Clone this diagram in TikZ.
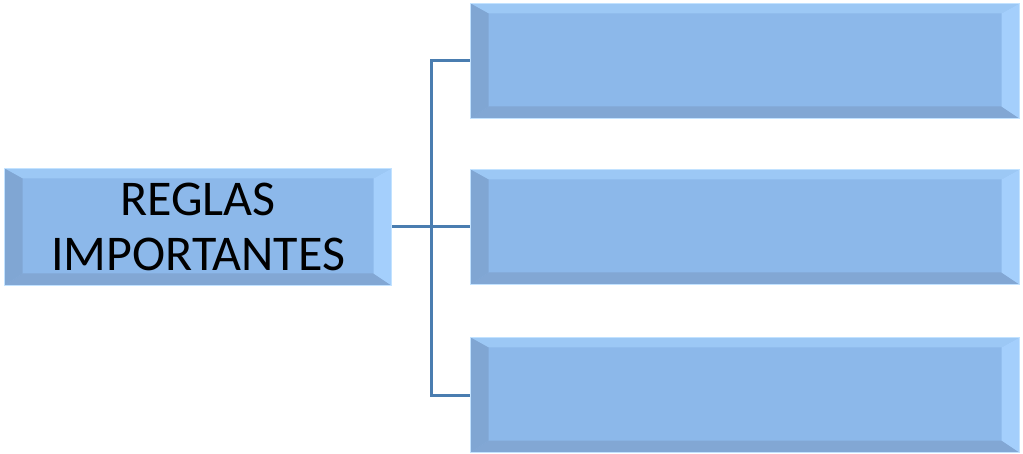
\documentclass[tikz,border=0pt]{standalone}
\usepackage{fontspec}
\setmainfont{Carlito}
\definecolor{boxfill}{HTML}{8CB8EA}
\definecolor{bevtop}{HTML}{9CC8F5}
\definecolor{bevleft}{HTML}{80A6D3}
\definecolor{bevright}{HTML}{A4CFFC}
\definecolor{bevbot}{HTML}{82A7D4}
\definecolor{boxedge}{HTML}{C2E2FF}
\definecolor{linkcol}{HTML}{4A7DB0}
\tikzset{
  bevelbox/.style={draw=boxedge, line width=1.5pt, fill=boxfill, inner sep=0pt,
    path picture={
      \coordinate (nw) at (path picture bounding box.north west);
      \coordinate (ne) at (path picture bounding box.north east);
      \coordinate (sw) at (path picture bounding box.south west);
      \coordinate (se) at (path picture bounding box.south east);
      \fill[bevtop] (nw) -- (ne) -- ([xshift=-18pt,yshift=-10pt]ne) -- ([xshift=18pt,yshift=-10pt]nw) -- cycle;
      \fill[bevbot] (sw) -- (se) -- ([xshift=-18pt,yshift=12pt]se) -- ([xshift=18pt,yshift=12pt]sw) -- cycle;
      \fill[bevleft] (nw) -- (sw) -- ([xshift=18pt,yshift=12pt]sw) -- ([xshift=18pt,yshift=-10pt]nw) -- cycle;
      \fill[bevright] (ne) -- (se) -- ([xshift=-18pt,yshift=12pt]se) -- ([xshift=-18pt,yshift=-10pt]ne) -- cycle;
    }},
  leftbox/.style={bevelbox, minimum width=387pt, minimum height=117pt, align=center, font=\fontsize{50}{55}\selectfont},
  rightbox/.style={bevelbox, minimum width=549pt, minimum height=115pt},
  link/.style={draw=linkcol, line width=3pt}
}
\begin{document}
\begin{tikzpicture}[x=1pt,y=-1pt]
\useasboundingbox (0,0) rectangle (1023,454);
\node[leftbox] (L) at (198,227) {REGLAS\\IMPORTANTES};
\node[rightbox] (R1) at (745,61) {};
\node[rightbox] (R2) at (745,227) {};
\node[rightbox] (R3) at (745,395) {};
\coordinate (J) at (431,227);
\draw[link] (L.east) -- (R2.west);
\draw[link] (R1.west) -| (J) |- (R3.west);
\end{tikzpicture}
\end{document}
